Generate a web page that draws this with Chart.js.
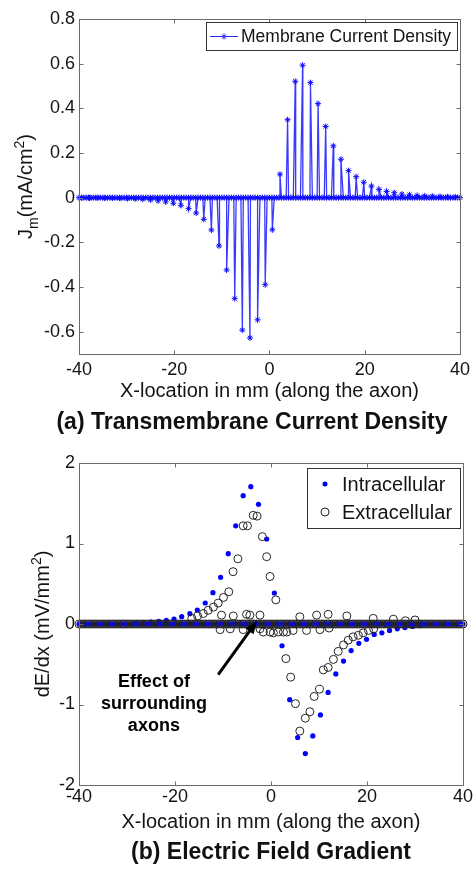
<!DOCTYPE html>
<html>
<head>
<meta charset="utf-8">
<script src="https://cdn.jsdelivr.net/npm/chart.js@4.4.0/dist/chart.umd.min.js"></script>
<style>
  html, body { margin: 0; padding: 0; background: #fff; }
  #c1 { position: absolute; left: 0; top: 0; }
  #c2 { position: absolute; left: 0; top: 437px; }
</style>
</head>
<body>
<canvas id="c1" width="475" height="437"></canvas>
<canvas id="c2" width="475" height="432"></canvas>
<script>
// sample positions along the axon (mm), where both plots sit on the zero line
const sampleX = [
  -40, -39.5, -39, -38.5, -38, -37.5, -37, -36.5, -36, -35.5, -35, -34.5, -34, -33.5, -33, -32.5,
  -32, -31.5, -31, -30.5, -30, -29.5, -29, -28.5, -28, -27.5, -27, -26.5, -26, -25.5, -25, -24.5,
  -24, -23.5, -23, -22.5, -22, -21.5, -21, -20.5, -20, -19.5, -19, -18.5, -18, -17.5, -17, -16.5,
  -16, -15.5, -15, -14.5, -14, -13.5, -13, -12.5, -12, -11.5, -11, -10.5, -10, -9.5, -9, -8.5,
  -8, -7.5, -7, -6.5, -6, -5.5, -5, -4.5, -4, -3.5, -3, -2.5, -2, -1.5, -1, -0.5,
  0, 0.5, 1, 1.5, 2, 2.5, 3, 3.5, 4, 4.5, 5, 5.5, 6, 6.5, 7, 7.5,
  8, 8.5, 9, 9.5, 10, 10.5, 11, 11.5, 12, 12.5, 13, 13.5, 14, 14.5, 15, 15.5,
  16, 16.5, 17, 17.5, 18, 18.5, 19, 19.5, 20, 20.5, 21, 21.5, 22, 22.5, 23, 23.5,
  24, 24.5, 25, 25.5, 26, 26.5, 27, 27.5, 28, 28.5, 29, 29.5, 30, 30.5, 31, 31.5,
  32, 32.5, 33, 33.5, 34, 34.5, 35, 35.5, 36, 36.5, 37, 37.5, 38, 38.5, 39, 39.5, 40
];

// (a) membrane current density at the nodes of Ranvier
const nodeX = [
  -39.4, -37.8, -36.2, -34.6, -33, -31.4, -29.8, -28.2, -26.6, -25, -23.4, -21.8, -20.2,
  -18.6, -17, -15.4, -13.8, -12.2, -10.6, -9, -7.3, -5.7, -4.1, -2.5, -0.9, 0.6,
  2.2, 3.8, 5.4, 6.95, 8.6, 10.2, 11.8, 13.4, 15, 16.6, 18.2, 19.8, 21.4, 23,
  24.6, 26.2, 27.8, 29.4, 31, 32.6, 34.2, 35.8, 37.4, 39
];
const jmNode = [
  -0.001, -0.001, -0.001, -0.002, -0.002, -0.003, -0.004, -0.005, -0.007, -0.01, -0.014, -0.019, -0.025,
  -0.034, -0.049, -0.069, -0.097, -0.145, -0.216, -0.324, -0.452, -0.593, -0.628, -0.547, -0.39, -0.144,
  0.105, 0.349, 0.521, 0.593, 0.515, 0.421, 0.319, 0.232, 0.172, 0.121, 0.094, 0.069, 0.052, 0.037,
  0.028, 0.022, 0.016, 0.013, 0.01, 0.008, 0.006, 0.005, 0.004, 0.003
];

// (b) electric field gradient, points off the zero line
const intraX = [
  -28.2, -26.6, -25, -23.4, -21.8, -20.2, -18.6, -16.9, -15.35, -13.7, -12.1, -10.5, -8.9,
  -7.35, -5.8, -4.2, -2.6, -0.9, 0.7, 2.3, 3.9, 5.55, 7.15, 8.7, 10.3, 11.9, 13.5,
  15.1, 16.7, 18.3, 19.9, 21.5, 23.1, 24.7, 26.3, 27.9, 29.5, 31.1
];
const intraY = [
  0.012, 0.017, 0.024, 0.033, 0.045, 0.062, 0.091, 0.128, 0.174, 0.261, 0.389, 0.58, 0.874,
  1.22, 1.594, 1.706, 1.487, 1.056, 0.385, -0.27, -0.94, -1.41, -1.61, -1.39, -1.13, -0.85, -0.62,
  -0.46, -0.33, -0.24, -0.19, -0.13, -0.11, -0.08, -0.06, -0.045, -0.03, -0.02
];
const extraX = [
  -16.5, -15.3, -14.1, -13.1, -12, -11, -9.9, -8.8, -7.9, -6.9, -5.8, -4.9, -3.7, -2.9, -1.8, -0.9, -0.2, 1,
  3.1, 4.1, 5.1, 6, 7.15, 8.1, 9, 10.1, 10.9, 11.9, 13, 14, 15.1, 16.1, 17.1, 18.2, 19.2, 20.3, 21.4,
  -10.3, -7.85, -5.1, -4.4, -2.3, 6, 9.5, 11.9, 15.8, 21.3, 25.5, 28, 30,
  -10.6, -8.5, -5.8, -2.3, -1.6, -0.2, 0.5, 1.5, 2.6, 3.3, 4.6, 7.4, 10.2, 12.1
];
const extraY = [
  0.07, 0.1, 0.13, 0.17, 0.21, 0.26, 0.33, 0.4, 0.65, 0.81, 1.22, 1.22, 1.35, 1.34, 1.085, 0.836, 0.59, 0.3,
  -0.43, -0.66, -0.99, -1.33, -1.17, -1.09, -0.9, -0.81, -0.57, -0.54, -0.44, -0.34, -0.26, -0.2, -0.16, -0.14, -0.11, -0.08, -0.06,
  0.11, 0.1, 0.12, 0.11, 0.11, 0.09, 0.11, 0.12, 0.1, 0.07, 0.06, 0.04, 0.05,
  -0.07, -0.06, -0.07, -0.06, -0.1, -0.1, -0.11, -0.1, -0.1, -0.1, -0.08, -0.08, -0.07, -0.05
];

const FONT = "'Liberation Sans', Arial, Helvetica, sans-serif";
const INK = "#141414";
Chart.defaults.font.family = FONT;
Chart.defaults.color = INK;

// box around the plot with inward ticks, like a MATLAB axes
const axesBox = {
  id: "axesBox",
  afterDraw(chart) {
    const { ctx, chartArea: a, scales } = chart;
    const L = Math.round(a.left) + 0.5, R = Math.round(a.right) + 0.5;
    const T = Math.round(a.top) + 0.5, B = Math.round(a.bottom) + 0.5;
    ctx.save();
    ctx.strokeStyle = "#6b6b6b";
    ctx.lineWidth = 1;
    ctx.strokeRect(L, T, R - L, B - T);
    ctx.beginPath();
    scales.x.ticks.forEach((t) => {
      const px = Math.round(scales.x.getPixelForValue(t.value)) + 0.5;
      ctx.moveTo(px, B); ctx.lineTo(px, B - 4);
      ctx.moveTo(px, T); ctx.lineTo(px, T + 4);
    });
    scales.y.ticks.forEach((t) => {
      const py = Math.round(scales.y.getPixelForValue(t.value)) + 0.5;
      ctx.moveTo(L, py); ctx.lineTo(L + 4, py);
      ctx.moveTo(R, py); ctx.lineTo(R - 4, py);
    });
    ctx.stroke();
    ctx.restore();
  },
};

// rotated y label with sub/superscripts
function drawYLabel(ctx, parts, cx, cy, size) {
  ctx.save();
  ctx.translate(cx, cy);
  ctx.rotate(-Math.PI / 2);
  ctx.fillStyle = INK;
  ctx.textAlign = "left";
  ctx.textBaseline = "alphabetic";
  const fontOf = (p) => (p.sub || p.sup ? size * 0.7 : size) + "px " + FONT;
  let total = 0;
  const widths = parts.map((p) => {
    ctx.font = fontOf(p);
    const w = ctx.measureText(p.t).width;
    total += w;
    return w;
  });
  let x = -total / 2;
  parts.forEach((p, i) => {
    ctx.font = fontOf(p);
    const dy = p.sub ? size * 0.28 : p.sup ? -size * 0.42 : 0;
    ctx.fillText(p.t, x, size * 0.36 + dy);
    x += widths[i];
  });
  ctx.restore();
}

function legendBox(ctx, l, t, r, b) {
  ctx.fillStyle = "#fff";
  ctx.fillRect(l, t, r - l, b - t);
  ctx.strokeStyle = "#333";
  ctx.lineWidth = 1;
  ctx.strokeRect(l + 0.5, t + 0.5, r - l, b - t);
}

const currentExtras = {
  id: "currentExtras",
  afterDraw(chart) {
    const { ctx, chartArea: a } = chart;
    drawYLabel(ctx, [{ t: "J" }, { t: "m", sub: true }, { t: "(mA/cm" }, { t: "2", sup: true }, { t: ")" }],
      25, (a.top + a.bottom) / 2, 20);
    ctx.save();
    legendBox(ctx, 206, 22, 457, 50);
    ctx.strokeStyle = "#2a2aff";
    ctx.beginPath(); ctx.moveTo(210, 36.5); ctx.lineTo(238, 36.5); ctx.stroke();
    Chart.helpers.drawPoint(ctx, { pointStyle: "star", radius: 3, borderWidth: 1, rotation: 0 }, 224, 36.5);
    ctx.fillStyle = INK;
    ctx.font = "17.5px " + FONT;
    ctx.textBaseline = "middle";
    ctx.fillText("Membrane Current Density", 241, 37);
    ctx.restore();
  },
};

const gradientExtras = {
  id: "gradientExtras",
  afterDraw(chart) {
    const { ctx, chartArea: a, scales: { x, y } } = chart;
    drawYLabel(ctx, [{ t: "dE/dx (mV/mm" }, { t: "2", sup: true }, { t: ")" }],
      42, (a.top + a.bottom) / 2, 20);
    ctx.save();
    legendBox(ctx, 307, 31, 460, 91);
    ctx.fillStyle = "#0000ff";
    ctx.beginPath(); ctx.arc(325, 47, 2.5, 0, Math.PI * 2); ctx.fill();
    ctx.strokeStyle = "#222";
    ctx.beginPath(); ctx.arc(325, 75, 4, 0, Math.PI * 2); ctx.stroke();
    ctx.fillStyle = INK;
    ctx.font = "20px " + FONT;
    ctx.textBaseline = "middle";
    ctx.fillText("Intracellular", 342, 48);
    ctx.fillText("Extracellular", 342, 76);

    // arrow pointing at the ripple on the zero line
    const x0 = x.getPixelForValue(-11), y0 = y.getPixelForValue(-0.63);
    const x1 = x.getPixelForValue(-2.9), y1 = y.getPixelForValue(0.04);
    const ang = Math.atan2(y1 - y0, x1 - x0);
    ctx.strokeStyle = "#000";
    ctx.fillStyle = "#000";
    ctx.lineWidth = 3;
    ctx.beginPath();
    ctx.moveTo(x0, y0);
    ctx.lineTo(x1 - 10 * Math.cos(ang), y1 - 10 * Math.sin(ang));
    ctx.stroke();
    ctx.beginPath();
    ctx.moveTo(x1, y1);
    ctx.lineTo(x1 - 13 * Math.cos(ang) + 5 * Math.sin(ang), y1 - 13 * Math.sin(ang) - 5 * Math.cos(ang));
    ctx.lineTo(x1 - 13 * Math.cos(ang) - 5 * Math.sin(ang), y1 - 13 * Math.sin(ang) + 5 * Math.cos(ang));
    ctx.closePath();
    ctx.fill();

    ctx.font = "bold 18px " + FONT;
    ctx.textAlign = "center";
    const tx = x.getPixelForValue(-24.4), ty = y.getPixelForValue(-0.72);
    ["Effect of", "surrounding", "axons"].forEach((s, i) => ctx.fillText(s, tx, ty + i * 22));
    ctx.restore();
  },
};

const jmPoints = sampleX.map((x) => ({ x, y: 0 }))
  .concat(nodeX.map((x, i) => ({ x, y: jmNode[i] })))
  .sort((p, q) => p.x - q.x);

new Chart(document.getElementById("c1"), {
  type: "scatter",
  data: {
    datasets: [
      {
        label: "Membrane Current Density",
        data: jmPoints,
        showLine: true,
        borderColor: "#3a3aff",
        borderWidth: 1.3,
        pointStyle: "star",
        pointRadius: 3,
        pointBorderColor: "#0a0aff",
        pointBorderWidth: 1,
        clip: false,
      },
    ],
  },
  options: {
    responsive: false,
    animation: false,
    layout: { padding: { top: 19, left: 44, right: 15, bottom: 0 } },
    scales: {
      x: {
        type: "linear",
        min: -40,
        max: 40,
        ticks: { stepSize: 20, font: { size: 18 }, padding: 5, maxRotation: 0 },
        grid: { display: false, drawTicks: false },
        border: { display: false },
        title: {
          display: true,
          text: "X-location in mm (along the axon)",
          font: { size: 20 },
          padding: { top: 0, bottom: 1 },
        },
        afterFit: (s) => { s.height = 50.4; },
      },
      y: {
        min: -0.7,
        max: 0.8,
        ticks: {
          stepSize: 0.2,
          includeBounds: false,
          font: { size: 18 },
          padding: 4,
          callback: (v) => String(Math.round(v * 10) / 10),
        },
        grid: { display: false, drawTicks: false },
        border: { display: false },
        afterFit: (s) => { s.width = 35; },
      },
    },
    plugins: {
      legend: { display: false },
      tooltip: { enabled: false },
      title: {
        display: true,
        position: "bottom",
        text: "(a) Transmembrane Current Density",
        font: { size: 23, weight: "bold" },
        color: "#111",
        padding: { top: 4, bottom: 1 },
      },
    },
  },
  plugins: [axesBox, currentExtras],
});

const intraPoints = intraX.map((x, i) => ({ x, y: intraY[i] }))
  .concat(sampleX.map((x) => ({ x, y: 0 })));
const extraPoints = extraX.map((x, i) => ({ x, y: extraY[i] }))
  .concat(sampleX.map((x) => ({ x, y: 0 })));

new Chart(document.getElementById("c2"), {
  type: "scatter",
  data: {
    datasets: [
      {
        label: "Intracellular",
        data: intraPoints,
        order: 1,
        pointStyle: "circle",
        pointRadius: 2.6,
        pointBorderWidth: 0,
        backgroundColor: "#0000ff",
        borderColor: "#0000ff",
        clip: false,
      },
      {
        label: "Extracellular",
        data: extraPoints,
        order: 0,
        pointStyle: "circle",
        pointRadius: 4,
        pointBorderWidth: 1,
        backgroundColor: "rgba(0,0,0,0)",
        borderColor: "#262626",
        clip: false,
      },
    ],
  },
  options: {
    responsive: false,
    animation: false,
    layout: { padding: { top: 26, left: 55, right: 12, bottom: 0 } },
    scales: {
      x: {
        type: "linear",
        min: -40,
        max: 40,
        ticks: { stepSize: 20, font: { size: 18 }, padding: 1, maxRotation: 0 },
        grid: { display: false, drawTicks: false },
        border: { display: false },
        title: {
          display: true,
          text: "X-location in mm (along the axon)",
          font: { size: 20 },
          padding: { top: 0, bottom: 1 },
        },
        afterFit: (s) => { s.height = 50.2; },
      },
      y: {
        min: -2,
        max: 2,
        ticks: { stepSize: 1, font: { size: 18 }, padding: 4 },
        grid: { display: false, drawTicks: false },
        border: { display: false },
        afterFit: (s) => { s.width = 24; },
      },
    },
    plugins: {
      legend: { display: false },
      tooltip: { enabled: false },
      title: {
        display: true,
        position: "bottom",
        fullSize: false,
        text: "(b) Electric Field Gradient",
        font: { size: 23, weight: "bold" },
        color: "#111",
        padding: { top: 4, bottom: 2.2 },
      },
    },
  },
  plugins: [axesBox, gradientExtras],
});
</script>
</body>
</html>
